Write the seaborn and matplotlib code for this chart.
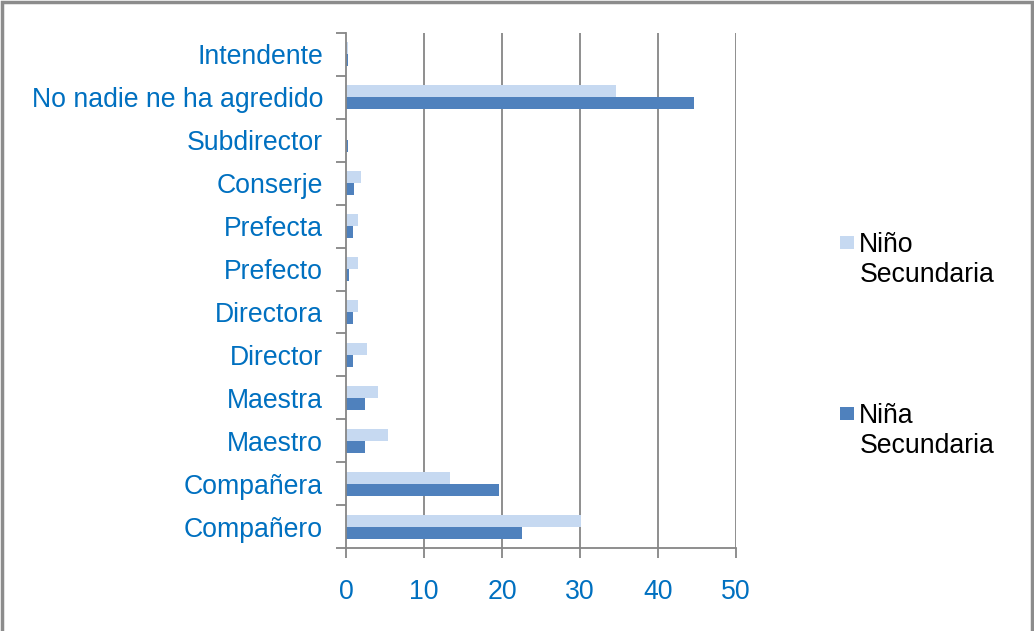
import seaborn as sns
import matplotlib.pyplot as plt
import matplotlib.patches as mpatches
import pandas as pd

# Categories from top to bottom, as in the chart
categorias = ['Intendente', 'No nadie ne ha agredido', 'Subdirector', 'Conserje',
              'Prefecta', 'Prefecto', 'Directora', 'Director', 'Maestra',
              'Maestro', 'Compañera', 'Compañero']
nino_secundaria = [0.2, 34.6, 0.0, 1.9, 1.5, 1.5, 1.5, 2.7, 4.1, 5.4, 13.3, 30.1]
nina_secundaria = [0.3, 44.6, 0.2, 1.0, 0.9, 0.4, 0.9, 0.9, 2.5, 2.5, 19.6, 22.6]
series = ['Niño\nSecundaria', 'Niña\nSecundaria']
colores = ['#C6D9F1', '#4F81BD']
x_ticks = [0, 10, 20, 30, 40, 50]

df = pd.DataFrame({
    'Categoria': categorias * 2,
    'Valor': nino_secundaria + nina_secundaria,
    'Serie': [series[0]] * len(categorias) + [series[1]] * len(categorias),
})

sns.set_theme(style="white")
plt.rcParams['font.family'] = ['Liberation Sans', 'DejaVu Sans']

fig = plt.figure(figsize=(10.34, 6.31), dpi=100)
ax = fig.add_axes([0.3346, 0.1315, 0.3772, 0.8162])

sns.barplot(data=df, y='Categoria', x='Valor', hue='Serie', order=categorias,
            hue_order=series, palette=colores, saturation=1, width=0.56,
            gap=0, linewidth=0, orient='h', ax=ax, legend=False)

grid_col = '#868686'
ax.set_xlim(0, 50)
ax.set_ylim(len(categorias) - 0.5, -0.5)
ax.set_xticks(x_ticks)
ax.set_xticklabels([str(t) for t in x_ticks])
for t in x_ticks[1:]:
    ax.axvline(t, color=grid_col, lw=1.3, zorder=0)

# category boundary ticks on the y axis (Excel style)
ax.set_yticks([i - 0.5 for i in range(len(categorias) + 1)], minor=True)
ax.tick_params(axis='y', which='major', length=0, pad=16.5,
               labelsize=19.2, labelcolor='#0070C0')
ax.tick_params(axis='y', which='minor', length=7, width=1.3, color=grid_col,
               left=True, direction='out')
ax.tick_params(axis='x', which='major', length=7, width=1.3, color=grid_col,
               bottom=True, direction='out', pad=15, labelsize=19.2,
               labelcolor='#0070C0')

for s in ['top', 'right']:
    ax.spines[s].set_visible(False)
for s in ['left', 'bottom']:
    ax.spines[s].set_color(grid_col)
    ax.spines[s].set_linewidth(1.3)
ax.set_xlabel('')
ax.set_ylabel('')

# legend drawn by hand, entries far apart like the original
leg_y = [0.605, 0.334]
for lab, col, y in zip(series, colores, leg_y):
    fig.patches.append(mpatches.Rectangle((0.8125, y), 0.0135, 0.021,
                                          transform=fig.transFigure,
                                          facecolor=col, edgecolor='none'))
    fig.text(0.831, y + 0.028, lab, fontsize=19.2, color='black', va='top',
             ha='left', linespacing=1.2)

# outer frame
fig.patches.append(mpatches.Rectangle((0.002, -0.01), 0.996, 1.007,
                                      transform=fig.transFigure, fill=False,
                                      edgecolor='#8c8c8c', lw=2.5))

plt.savefig('out.png', dpi=100)
